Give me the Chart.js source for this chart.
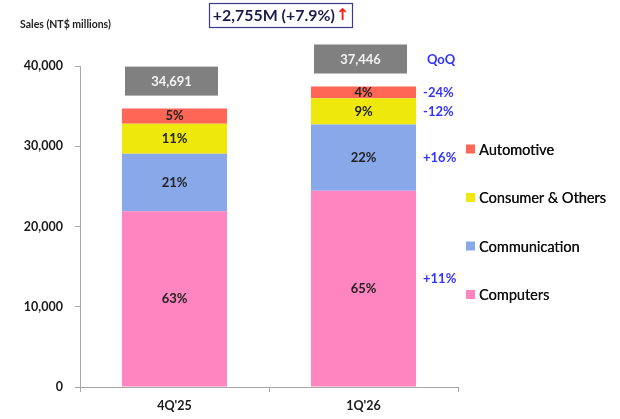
<!DOCTYPE html>
<html>
<head>
<meta charset="utf-8">
<script src="https://cdn.jsdelivr.net/npm/chart.js@4.4.1/dist/chart.umd.min.js"></script>
<style>
  html, body { margin: 0; padding: 0; background: #fff; }
</style>
</head>
<body>
<canvas id="salesChart" width="620" height="419"></canvas>
<script>
// data (NT$ millions)
const quarters = ["4Q'25", "1Q'26"];
const seriesNames = ['Computers', 'Communication', 'Consumer & Others', 'Automotive'];
const computers = [21900, 24450];
const communication = [7150, 8260];
const consumer = [3750, 3280];
const automotive = [1891, 1456];
const totals = [34691, 37446];

// share labels shown in each segment (%)
const computersShare = [63, 65];
const communicationShare = [21, 22];
const consumerShare = [11, 9];
const automotiveShare = [5, 4];

// QoQ growth shown to the right of the latest bar
const qoqLabels = ['+11%', '+16%', '-12%', '-24%'];
const headline = '+2,755M (+7.9%)';

const yTicks = [0, 10000, 20000, 30000, 40000];

const colors = ['#ff85c0', '#88a8ea', '#eee80c', '#ff6655'];
const shares = [computersShare, communicationShare, consumerShare, automotiveShare];
const FONT = 'Lato, "Open Sans", sans-serif';

const overlay = {
    id: 'overlay',
    afterDatasetsDraw(chart) {
        const ctx = chart.ctx;
        const y = chart.scales.y;
        ctx.save();
        ctx.textAlign = 'center';
        ctx.textBaseline = 'middle';

        // percentage inside each segment
        ctx.font = 'bold 13px ' + FONT;
        ctx.fillStyle = '#222';
        chart.data.datasets.forEach((ds, i) => {
            chart.getDatasetMeta(i).data.forEach((bar, j) => {
                ctx.fillText(shares[i][j] + '%', bar.x, (bar.y + bar.base) / 2);
            });
        });

        // grey total boxes
        const top = chart.getDatasetMeta(chart.data.datasets.length - 1);
        top.data.forEach((bar, j) => {
            const bottom = y.getPixelForValue(totals[j]) - 13;
            const w = 93, h = 29;
            const cx = bar.x - 3;
            ctx.fillStyle = '#808080';
            ctx.fillRect(cx - w / 2, bottom - h, w, h);
            ctx.fillStyle = '#f4f4f4';
            ctx.font = 'bold 13px ' + FONT;
            ctx.fillText(totals[j].toLocaleString('en-US'), cx, bottom - h / 2 + 1);
        });

        // QoQ column
        ctx.fillStyle = '#3333ff';
        ctx.font = 'bold 13px ' + FONT;
        ctx.textAlign = 'left';
        const last = quarters.length - 1;
        chart.data.datasets.forEach((ds, i) => {
            const bar = chart.getDatasetMeta(i).data[last];
            const mid = (bar.y + bar.base) / 2;
            ctx.fillText(qoqLabels[i], bar.x + bar.width / 2 + 7, i === 0 ? mid - 10 : mid);
        });
        const lastBar = top.data[last];
        ctx.textAlign = 'center';
        ctx.fillText('QoQ', lastBar.x + lastBar.width / 2 + 25, 60);

        // legend, top series first
        ctx.textAlign = 'left';
        ctx.font = '14.5px ' + FONT;
        const n = chart.data.datasets.length;
        for (let k = 0; k < n; k++) {
            const ds = chart.data.datasets[n - 1 - k];
            const ly = 149 + k * 48.5;
            ctx.fillStyle = ds.backgroundColor;
            ctx.fillRect(466, ly - 4.5, 9, 9);
            ctx.fillStyle = '#111';
            ctx.fillText(ds.label, 479, ly + 1);
            ctx.fillText(ds.label, 479.3, ly + 1);
        }

        // axis title
        ctx.font = 'bold 10.5px ' + FONT;
        ctx.fillStyle = '#222';
        ctx.fillText('Sales (NT$ millions)', 20, 25);

        // headline box, text sized to fit
        const bx = 209, bw = 143, by = 3, bh = 24;
        ctx.font = 'bold 17px ' + FONT;
        const size = Math.min(17, 17 * 122 / ctx.measureText(headline).width);
        ctx.font = 'bold ' + size + 'px ' + FONT;
        const textW = ctx.measureText(headline).width;
        ctx.font = 'bold 16px "DejaVu Sans", sans-serif';
        const arrowW = ctx.measureText('\u2191').width;
        ctx.fillStyle = '#fff';
        ctx.fillRect(bx, by, bw, bh);
        ctx.strokeStyle = '#3b3b8f';
        ctx.lineWidth = 1.2;
        ctx.strokeRect(bx + 0.5, by + 0.5, bw, bh);
        const startX = bx + (bw - textW - arrowW) / 2;
        ctx.font = 'bold ' + size + 'px ' + FONT;
        ctx.fillStyle = '#1c1c4c';
        ctx.fillText(headline, startX, by + bh / 2 + 1);
        ctx.font = 'bold 16px "DejaVu Sans", sans-serif';
        ctx.fillStyle = '#ff1a1a';
        ctx.fillText('\u2191', startX + textW + 1, by + bh / 2 + 1);
        ctx.restore();
    }
};

new Chart(document.getElementById('salesChart'), {
    type: 'bar',
    data: {
        labels: quarters,
        datasets: [computers, communication, consumer, automotive].map((vals, i) => ({
            label: seriesNames[i],
            data: vals,
            backgroundColor: colors[i],
            borderWidth: 0,
            categoryPercentage: 0.556,
            barPercentage: 1
        }))
    },
    options: {
        responsive: false,
        animation: false,
        layout: { padding: { top: 66, right: 162, left: 0, bottom: 0 } },
        plugins: {
            legend: { display: false },
            tooltip: { enabled: false }
        },
        scales: {
            x: {
                stacked: true,
                grid: { drawOnChartArea: false, drawTicks: true, tickLength: 5, color: '#a6a6a6', offset: true },
                border: { display: true, color: '#a6a6a6' },
                ticks: { color: '#1a1a1a', padding: 6, font: { family: FONT, size: 12.5, weight: 'bold' } },
                afterFit(scale) { scale.height = 32; }
            },
            y: {
                stacked: true,
                min: 0,
                max: 40000,
                afterBuildTicks(scale) { scale.ticks = yTicks.map(v => ({ value: v })); },
                grid: { drawOnChartArea: false, drawTicks: true, tickLength: 5, color: '#a6a6a6' },
                border: { display: true, color: '#a6a6a6' },
                ticks: {
                    color: '#1a1a1a',
                    padding: 12,
                    font: { family: FONT, size: 12.5, weight: 'bold' },
                    callback: v => v.toLocaleString('en-US')
                },
                afterFit(scale) { scale.width = 80; }
            }
        }
    },
    plugins: [overlay]
});
</script>
</body>
</html>
